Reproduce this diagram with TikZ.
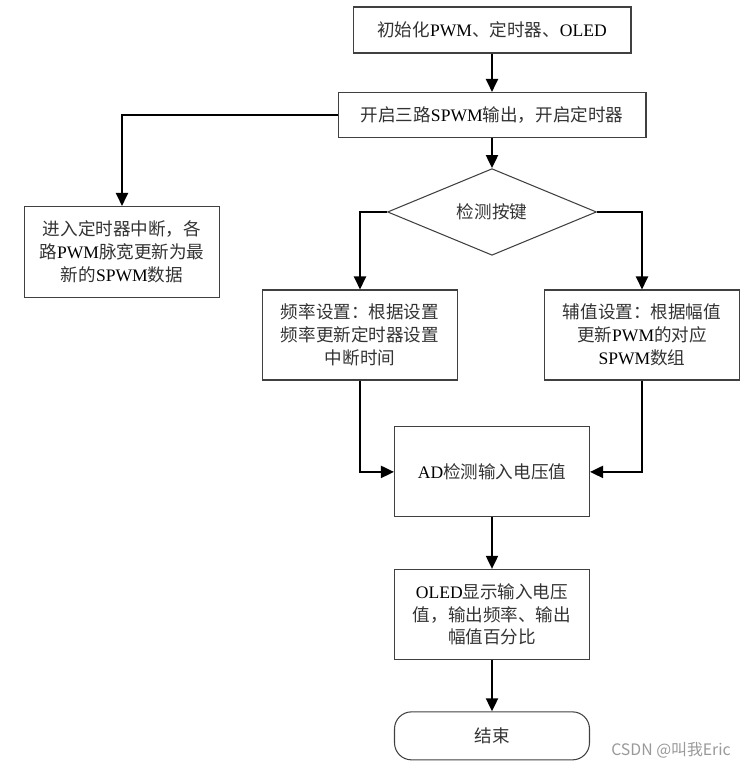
\documentclass[tikz,border=0pt]{standalone}
\usepackage{fontspec}
\setmainfont{Liberation Serif}
\newfontfamily\cjk{Noto Sans CJK SC}
\usepackage{tikz}
\usetikzlibrary{arrows.meta, shapes.geometric, positioning}
\newcommand\zhtxt[1]{{\cjk\color{black!80}#1}}
\tikzstyle{arrow} = [line width=1.1pt,-{Triangle[length=2.6mm,width=2.4mm]}]
\tikzstyle{process} = [rectangle, draw=black!75, line width=0.6pt, minimum width=3.9cm, minimum height=1.8cm, align=center, font=\fontsize{10}{13}\selectfont]
\tikzstyle{decision} = [diamond, draw=black!75, line width=0.6pt, minimum width=4.18cm, minimum height=1.6cm, inner sep=0pt, align=center, font=\fontsize{10}{13}\selectfont]
\tikzstyle{stopbox} = [rectangle, rounded corners=0.34cm, draw=black!75, line width=0.6pt, minimum width=3.9cm, minimum height=0.96cm, align=center, font=\fontsize{10}{13}\selectfont]

\begin{document}
\begin{tikzpicture}[x=0.02cm, y=-0.02cm]
\useasboundingbox (0,0) rectangle (746,768);
%----------------------------------------------------------------------------
% Placement of flowcart nodes
\node (init) [process, minimum width=5.56cm, minimum height=0.92cm] at (492,30) {\zhtxt{初始化}PWM\zhtxt{、定时器、}OLED};
\node (startSPWM) [process, below of = init, node distance=1.7cm, minimum width=6.16cm, minimum height=0.9cm] {\zhtxt{开启三路}SPWM\zhtxt{输出，开启定时器}};
\node (checkKey) [decision, below of = startSPWM, node distance=1.94cm] {\zhtxt{检测按键}};

\node (timerISR) [process, minimum height=1.82cm] at (122,252) {\zhtxt{进入定时器中断，各}\\\zhtxt{路}PWM\zhtxt{脉宽更新为最}\\\zhtxt{新的}SPWM\zhtxt{数据}};
\node (setFreq) [process] at (360,335) {\zhtxt{频率设置：根据设置}\\\zhtxt{频率更新定时器设置}\\\zhtxt{中断时间}};
\node (setAmp) [process] at (642,335) {\zhtxt{辅值设置：根据幅值}\\\zhtxt{更新}PWM\zhtxt{的对应}\\SPWM\zhtxt{数组}};

\node (readAD) [process, below of = checkKey, node distance=5.2cm] {AD\zhtxt{检测输入电压值}};
\node (showOLED) [process, below of = readAD, node distance=2.85cm] {OLED\zhtxt{显示输入电压}\\\zhtxt{值，输出频率、输出}\\\zhtxt{幅值百分比}};
\node (finish) [stopbox, below of = showOLED, node distance=2.43cm] {\zhtxt{结束}};

%----------------------------------------------------------------------------
% Lines
\draw [arrow] (init) -- (startSPWM);
\draw [arrow] (startSPWM) -- (checkKey);
\draw [arrow] (startSPWM.west) -| (timerISR.north);

\draw [arrow] (checkKey.west) -| (setFreq.north);
\draw [arrow] (checkKey.east) -| (setAmp.north);
\draw [arrow] (setFreq.south) |- (readAD.west);
\draw [arrow] (setAmp.south) |- (readAD.east);

\draw [arrow] (readAD) -- (showOLED);
\draw [arrow] (showOLED) -- (finish);

%----------------------------------------------------------------------------
% Watermark
\node (mark) [font=\cjk\fontsize{9}{11}\selectfont, text=black!40] at (671,750) {CSDN @叫我Eric};

\end{tikzpicture}
\end{document}
